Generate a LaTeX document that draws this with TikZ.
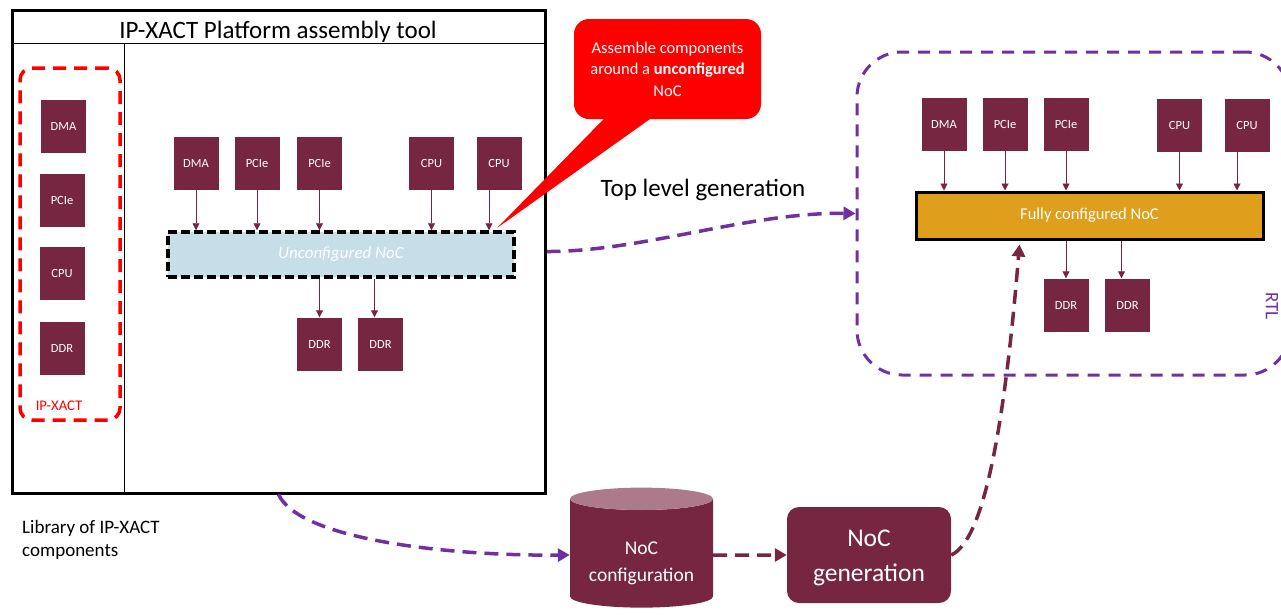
\documentclass[tikz,border=0pt]{standalone}
\usepackage{fontspec}
\setmainfont{Carlito}
\usetikzlibrary{shapes.geometric,arrows.meta,positioning}
\definecolor{maroon}{RGB}{119,38,66}
\definecolor{maroonlight}{RGB}{172,122,139}
\definecolor{flowpurple}{RGB}{112,48,160}
\definecolor{nocgold}{RGB}{223,158,27}
\definecolor{noclight}{RGB}{197,222,232}
\tikzset{
  comp/.style={fill=maroon, text=white, minimum width=45, minimum height=53,
    inner sep=0, font=\fontsize{12.5}{15}\selectfont},
  link/.style={draw=maroon, line width=0.9, -{Triangle[length=7,width=7]}},
  flow/.style={draw=flowpurple, line width=3.5, dash pattern=on 14 off 8,
    -{Triangle[length=12,width=13]}},
  genflow/.style={draw=maroon, line width=3.5, dash pattern=on 14 off 8,
    -{Triangle[length=12,width=13]}},
}
\begin{document}
\begin{tikzpicture}[x=1pt,y=-1pt]
        \useasboundingbox (0,0) rectangle (1281,614);
        % platform assembly tool
        \node[draw, line width=3, minimum width=533, minimum height=483] (tool) at (278.5,251.5) {};
        \draw[line width=1.5] ([yshift=-35]tool.north west) -- ([yshift=-35]tool.north east);
        \draw[line width=1.2] ([xshift=114,yshift=-35]tool.north west) -- ([xshift=114]tool.south west);
        \node[font=\fontsize{25}{29}\selectfont] (title) at (278,32) {IP-XACT Platform assembly tool};
        % library
        \node[draw=red, line width=3.5, dash pattern=on 13 off 8, rounded corners=12,
              minimum width=100, minimum height=352] (lib) at (70,244) {};
        \node[comp] (lDMA) at (63.5,126) {DMA};
        \node[comp] (lPCIe) at (62,200) {PCIe};
        \node[comp] (lCPU) at (62,273.5) {CPU};
        \node[comp] (lDDR) at (62,348) {DDR};
        \node[text=red, font=\fontsize{14.7}{17}\selectfont] (libname) at (59,406) {IP-XACT};
        \node[anchor=north west, align=left, inner sep=0,
              font=\fontsize{19}{23.5}\selectfont] (libtext) at (22,520) {Library of IP-XACT\\components};
        % unconfigured noc
        \node[comp] (uDMA) at (196,163.5) {DMA};
        \node[comp] (uPCIe1) at (257,163.5) {PCIe};
        \node[comp] (uPCIe2) at (319.5,163.5) {PCIe};
        \node[comp] (uCPU1) at (431.5,163.5) {CPU};
        \node[comp] (uCPU2) at (499,163.5) {CPU};
        \node[fill=noclight, draw, line width=3.5, dash pattern=on 9 off 4,
              minimum width=346, minimum height=45, text=white,
              font=\fontsize{17}{20}\selectfont\itshape] (unc) at (341,254.5) {Unconfigured NoC};
        \node[comp] (uDDR1) at (319.5,344) {DDR};
        \node[comp] (uDDR2) at (380.5,344) {DDR};
        \draw[link] (uDMA) -- (uDMA |- unc.north);
        \draw[link] (uPCIe1) -- (uPCIe1 |- unc.north);
        \draw[link] (uPCIe2) -- (uPCIe2 |- unc.north);
        \draw[link] (uCPU1) -- (uCPU1 |- unc.north);
        \draw[link] ([xshift=-10]uCPU2.south) -- ([xshift=-10]uCPU2.south |- unc.north);
        \draw[link] (unc.south -| uDDR1) -- (uDDR1);
        \draw[link] ([xshift=-6]unc.south -| uDDR2) -- ([xshift=-6]uDDR2.north);
        % callout
        \coordinate (tip) at (497,228);
        \node[fill=red, rounded corners=15, minimum width=187, minimum height=100, text=white,
              align=center, font=\fontsize{16.5}{21.5}\selectfont] (note) at (667.5,69)
              {Assemble components\\around a \textbf{unconfigured}\\NoC};
        \fill[red] ([xshift=-62,yshift=2]note.south) -- (tip) -- ([xshift=-15,yshift=2]note.south) -- cycle;
        \node[font=\fontsize{25}{29}\selectfont] (toplevel) at (703,190) {Top level generation};
        % rtl
        \node[draw=flowpurple, line width=3, dash pattern=on 12 off 9, rounded corners=45,
              minimum width=433, minimum height=323] (rtl) at (1073.5,213.5) {};
        \node[text=flowpurple, rotate=-90, font=\fontsize{19}{21}\selectfont] (rtlname) at (1272,306) {RTL};
        \node[comp] (rDMA) at (944,124) {DMA};
        \node[comp] (rPCIe1) at (1005,124) {PCIe};
        \node[comp] (rPCIe2) at (1066,124) {PCIe};
        \node[comp] (rCPU1) at (1179.5,125) {CPU};
        \node[comp] (rCPU2) at (1247,125) {CPU};
        \node[fill=nocgold, draw, line width=3, minimum width=347, minimum height=47, text=white,
              font=\fontsize{16.5}{19}\selectfont] (full) at (1089.5,215.5) {Fully configured NoC};
        \node[comp] (rDDR1) at (1066,305) {DDR};
        \node[comp] (rDDR2) at (1127.5,305) {DDR};
        \draw[link] (rDMA) -- (rDMA |- full.north);
        \draw[link] (rPCIe1) -- (rPCIe1 |- full.north);
        \draw[link] (rPCIe2) -- (rPCIe2 |- full.north);
        \draw[link] (rCPU1) -- (rCPU1 |- full.north);
        \draw[link] ([xshift=-10]rCPU2.south) -- ([xshift=-10]rCPU2.south |- full.north);
        \draw[link] (full.south -| rDDR1) -- (rDDR1);
        \draw[link] ([xshift=-6]full.south -| rDDR2) -- ([xshift=-6]rDDR2.north);
        % generation flow
        \node[cylinder, shape border rotate=90, aspect=0.2, minimum width=143, minimum height=120,
              cylinder uses custom fill, cylinder body fill=maroon, cylinder end fill=maroonlight,
              font=\fontsize{19.5}{27}\selectfont] (cfg) at (641.5,555) {\phantom{configuration}};
        \node[text=white, align=center, font=\fontsize{19.5}{27}\selectfont] (cfgtext) at ([yshift=-8]cfg.center)
              {NoC\\configuration};
        \node[fill=maroon, rounded corners=12, minimum width=164, minimum height=96] (gen) at (869,555) {};
        \node[text=white, align=center, font=\fontsize{25.5}{35}\selectfont] (gentext) at ([yshift=-3]gen.center)
              {NoC\\generation};
        \draw[flow] (tool.east) .. controls (640,252) and (750,212) .. (rtl.west);
        \draw[flow] (tool.south) .. controls (300,540) and (450,556) .. (cfg.west);
        \draw[genflow] (cfg.east) -- (gen.west);
        \draw[genflow] (gen.east) .. controls (985,540) and (1005,420) .. ([xshift=-70,yshift=-4]full.south);
      \end{tikzpicture}
\end{document}
